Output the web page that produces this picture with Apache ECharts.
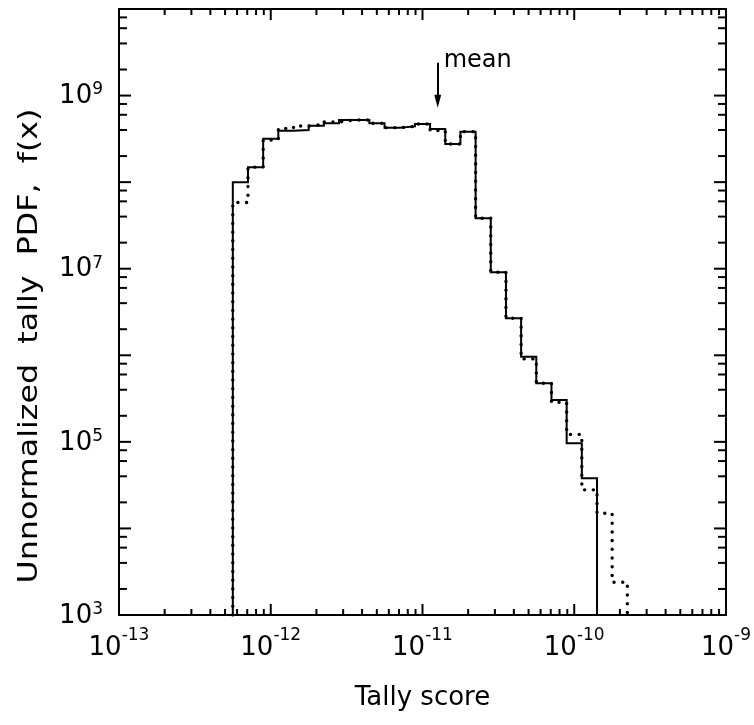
<!DOCTYPE html>
<html><head><meta charset="utf-8">
<script src="https://cdn.jsdelivr.net/npm/echarts@6/dist/echarts.min.js"></script>
<style>html,body{margin:0;padding:0;background:#fff}#c{width:754px;height:725px}</style>
</head><body><div id="c"></div>
<script>
// Bin edges of the tally-score histogram (10 bins per decade)
const binEdges = [5.623e-13, 7.079e-13, 8.913e-13, 1.122e-12, 1.413e-12, 1.778e-12, 2.239e-12,
  2.818e-12, 3.548e-12, 4.467e-12, 5.623e-12, 7.079e-12, 8.913e-12, 1.122e-11, 1.413e-11,
  1.778e-11, 2.239e-11, 2.818e-11, 3.548e-11, 4.467e-11, 5.623e-11, 7.079e-11, 8.913e-11,
  1.122e-10, 1.413e-10, 1.778e-10, 2.239e-10];
// Solid histogram (bins 0..23)
const solidPDF = [1.0e8, 1.49e8, 3.18e8, 3.93e8, 4.0e8, 4.49e8, 4.79e8, 5.22e8, 5.22e8, 4.79e8,
  4.26e8, 4.40e8, 4.70e8, 4.11e8, 2.76e8, 3.83e8, 3.83e7, 9.12e6, 2.68e6, 9.6e5, 4.76e5,
  3.05e5, 9.66e4, 3.81e4];
// Dotted histogram (bins 0..25)
const dottedPDF = [5.83e7, 1.49e8, 3.07e8, 4.17e8, 4.45e8, 4.64e8, 4.95e8, 5.22e8, 5.22e8, 4.79e8,
  4.26e8, 4.40e8, 4.70e8, 3.95e8, 2.76e8, 3.83e8, 3.83e7, 9.12e6, 2.68e6, 9.08e5, 4.76e5,
  2.86e5, 1.22e5, 2.79e4, 1.50e4, 2.39e3];
const meanScore = 1.26e-11;
const meanArrowTop = 2.4e9, meanArrowEnd = 8.6e8;
const xDecades = [-13, -12, -11, -10, -9];
const yDecades = [3, 4, 5, 6, 7, 8, 9, 10];
const xMinorMult = [2, 3, 4, 5, 6, 7, 8, 9];
const yMinorMult = [2, 4, 6, 8];
const xMin = 1e-13, xMax = 1e-9, yMin = 1e3, yMax = 1e10;
const yTitle = 'Unnormalized  tally  PDF,  f(x)';
const xTitle = 'Tally score';

const FONT = "'DejaVu Sans', sans-serif";

function stepPoints(edges, vals) {
  const pts = [[edges[0], yMin]];
  for (let i = 0; i < vals.length; i++) {
    pts.push([edges[i], vals[i]]);
    pts.push([edges[i + 1], vals[i]]);
  }
  pts.push([edges[vals.length], yMin]);
  return pts;
}

const xTicks = [];
xDecades.forEach((d, i) => {
  xTicks.push([Math.pow(10, d), yMin, 11]);
  if (i < xDecades.length - 1) xMinorMult.forEach(m => xTicks.push([m * Math.pow(10, d), yMin, 6]));
});
const yTicks = [];
yDecades.forEach((d, i) => {
  yTicks.push([xMin, Math.pow(10, d), 12]);
  if (i < yDecades.length - 1) yMinorMult.forEach(m => yTicks.push([xMin, m * Math.pow(10, d), 8]));
});

function expOf(v) { return Math.round(Math.log10(v)); }

const chart = echarts.init(document.getElementById('c'), null, {renderer: 'canvas'});
chart.setOption({
  animation: false,
  backgroundColor: '#fff',
  grid: {left: 119, right: 25, top: 9, bottom: 110, show: true, borderColor: '#000', borderWidth: 2, backgroundColor: 'transparent'},
  graphic: [{
    type: 'text', x: 30, y: 346, rotation: Math.PI / 2, scaleX: 1.22, silent: true,
    style: {text: yTitle, font: "26px 'DejaVu Sans', sans-serif", fill: '#000', textAlign: 'center', textVerticalAlign: 'middle'}
  }],
  xAxis: {
    type: 'log', logBase: 10, min: xMin, max: xMax,
    axisLine: {show: false}, axisTick: {show: false}, splitLine: {show: false}, minorTick: {show: false},
    axisLabel: {
      margin: 12, color: '#000',
      formatter: v => '{b|10}{s|' + expOf(v) + '}',
      rich: {
        b: {fontFamily: FONT, fontSize: 26, color: '#000', lineHeight: 34, verticalAlign: 'bottom'},
        s: {fontFamily: FONT, fontSize: 17, color: '#000', lineHeight: 34, verticalAlign: 'top'}
      }
    },
    name: xTitle, nameLocation: 'middle', nameGap: 70,
    nameTextStyle: {fontFamily: FONT, fontSize: 26, color: '#000'}
  },
  yAxis: {
    type: 'log', logBase: 10, min: yMin, max: yMax,
    axisLine: {show: false}, axisTick: {show: false}, splitLine: {show: false}, minorTick: {show: false},
    axisLabel: {
      margin: 16, color: '#000',
      formatter: v => { const e = expOf(v); return (e % 2 === 1) ? '{b|10}{s|' + e + '}' : ''; },
      rich: {
        b: {fontFamily: FONT, fontSize: 26, color: '#000', lineHeight: 28, verticalAlign: 'bottom'},
        s: {fontFamily: FONT, fontSize: 17, color: '#000', lineHeight: 28, verticalAlign: 'top'}
      }
    }
  },
  series: [
    {
      type: 'line', data: stepPoints(binEdges, solidPDF), symbol: 'none', clip: true,
      lineStyle: {color: '#000', width: 2, join: 'miter', cap: 'butt'}, z: 3
    },
    {
      type: 'line', data: stepPoints(binEdges, dottedPDF), symbol: 'none', clip: true,
      lineStyle: {color: '#000', width: 3.4, type: [0.1, 8.6], cap: 'round'}, z: 4
    },
    {
      type: 'custom', coordinateSystem: 'cartesian2d', data: xTicks, clip: false, z: 5, silent: true,
      renderItem: (params, api) => {
        const x = api.value(0), len = api.value(2);
        const b = api.coord([x, yMin]), t = api.coord([x, yMax]);
        return {type: 'group', children: [
          {type: 'line', shape: {x1: b[0], y1: b[1], x2: b[0], y2: b[1] - len}, style: {stroke: '#000', lineWidth: 2}},
          {type: 'line', shape: {x1: t[0], y1: t[1], x2: t[0], y2: t[1] + len}, style: {stroke: '#000', lineWidth: 2}}
        ]};
      }
    },
    {
      type: 'custom', coordinateSystem: 'cartesian2d', data: yTicks, clip: false, z: 5, silent: true,
      renderItem: (params, api) => {
        const y = api.value(1), len = api.value(2);
        const l = api.coord([xMin, y]), r = api.coord([xMax, y]);
        return {type: 'group', children: [
          {type: 'line', shape: {x1: l[0], y1: l[1], x2: l[0] + len, y2: l[1]}, style: {stroke: '#000', lineWidth: 2}},
          {type: 'line', shape: {x1: r[0], y1: r[1], x2: r[0] - len, y2: r[1]}, style: {stroke: '#000', lineWidth: 2}}
        ]};
      }
    },
    {
      type: 'scatter', data: [[meanScore, meanArrowTop]], symbolSize: 0, silent: true, z: 6,
      itemStyle: {opacity: 1, color: '#000'},
      label: {show: true, position: 'right', distance: 6, offset: [0, -2], formatter: 'mean',
        fontFamily: FONT, fontSize: 24, color: '#000', opacity: 1},
      markLine: {
        silent: true, symbol: ['none', 'triangle'], symbolSize: [7, 13],
        lineStyle: {color: '#000', width: 2, type: 'solid', opacity: 1}, itemStyle: {color: '#000'}, label: {show: false},
        data: [[{coord: [meanScore, meanArrowTop]}, {coord: [meanScore, meanArrowEnd]}]]
      }
    }
  ]
});
</script></body></html>
